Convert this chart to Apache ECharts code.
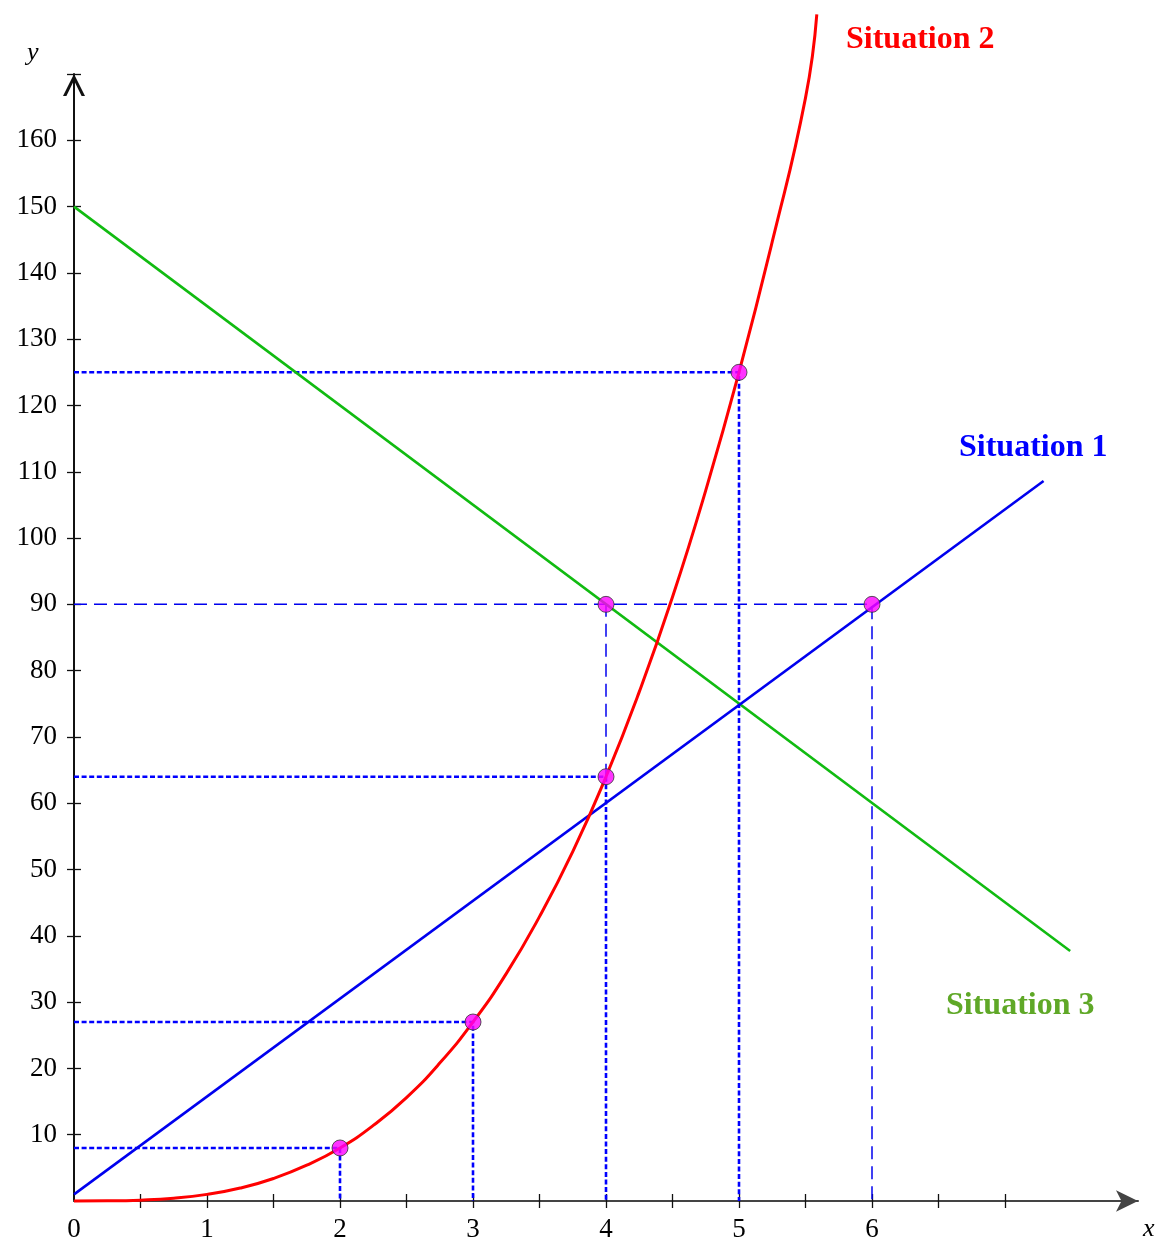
<!DOCTYPE html>
<html>
<head>
<meta charset="utf-8">
<script src="https://cdn.jsdelivr.net/npm/echarts@6/dist/echarts.min.js"></script>
<style>
html,body{margin:0;padding:0;background:#fff;}
#chart{width:1161px;height:1243px;}
</style>
</head>
<body>
<div id="chart"></div>
<script>
// ---- data ----
var xTickValues = [0.5,1,1.5,2,2.5,3,3.5,4,4.5,5,5.5,6,6.5,7];
var xLabelValues = [0,1,2,3,4,5,6];
var yTickValues = [10,20,30,40,50,60,70,80,90,100,110,120,130,140,150,160,170];
var yLabelValues = [10,20,30,40,50,60,70,80,90,100,110,120,130,140,150,160];

var situation1 = [[0, 1], [7.29, 108.6]];
var situation2 = [[0,0],[0.25,0.02],[0.5,0.13],[0.75,0.42],[1,1],[1.25,1.95],[1.5,3.4],[1.75,5.4],
  [2,8],[2.25,11.4],[2.5,15.6],[2.75,20.8],[3,27],[3.25,34.3],[3.5,42.9],[3.75,52.7],[4,64],
  [4.25,76.8],[4.5,91.1],[4.75,107.2],[5,125],[5.25,144.7],[5.5,166.4],[5.585,179]];
var situation3 = [[0, 150], [7.49, 37.7]];

var markedPoints = [[2,8],[3,27],[4,64],[5,125],[4,90],[6,90]];

// dotted guides (thick blue dotted)
var guide2 = [[0,8],[2,8],[2,0]];
var guide3 = [[0,27],[3,27],[3,0]];
var guide4 = [[0,64],[4,64],[4,0]];
var guide5 = [[0,125],[5,125],[5,0]];
// thin dashed guides
var guide90 = [[0,90],[6,90],[6,0]];
var guide4up = [[4,64],[4,90]];

var chart = echarts.init(document.getElementById('chart'), null, {renderer:'canvas'});
var serif = '"Liberation Serif", "Times New Roman", serif';
var chevron = 'path://M0,22 L11,0 L22,22 L18.6,22 L11,6.5 L3.4,22 Z';

function dotted(data){
  return {type:'line', xAxisIndex:0, yAxisIndex:0, data:data, symbol:'none', silent:true, z:3,
    lineStyle:{color:'#0000ff', width:2.6, type:[5,2.6]}};
}
function dashed(data){
  return {type:'line', xAxisIndex:0, yAxisIndex:0, data:data, symbol:'none', silent:true, z:3,
    lineStyle:{color:'#0000ee', width:1.5, type:[13,7]}};
}

var option = {
  animation:false,
  backgroundColor:'#fff',
  grid:{left:74, top:74, right:23, bottom:39, containLabel:false},
  xAxis:[
    {type:'value', min:0, max:8, position:'bottom',
     axisLine:{show:true, onZero:false, symbol:['none','arrow'], symbolSize:[16,22], lineStyle:{color:'#444', width:2}},
     axisTick:{show:true, inside:false, length:7, customValues:xTickValues, lineStyle:{color:'#111', width:1.3}},
     axisLabel:{show:true, customValues:xLabelValues, margin:15, color:'#000', fontFamily:serif, fontSize:27},
     splitLine:{show:false}},
    {type:'value', min:0, max:8, position:'bottom',
     axisLine:{show:false},
     axisTick:{show:true, inside:true, length:7, customValues:xTickValues, lineStyle:{color:'#111', width:1.3}},
     axisLabel:{show:false}, splitLine:{show:false}}
  ],
  yAxis:[
    {type:'value', min:0, max:170, position:'left',
     axisLine:{show:true, onZero:false, symbol:['none',chevron], symbolSize:[22,22], symbolOffset:[0,-11], lineStyle:{color:'#111', width:2}},
     axisTick:{show:true, inside:false, length:7, customValues:yTickValues, lineStyle:{color:'#111', width:1.3}},
     axisLabel:{show:true, customValues:yLabelValues, margin:17, color:'#000', fontFamily:serif, fontSize:27},
     splitLine:{show:false}},
    {type:'value', min:0, max:170, position:'left',
     axisLine:{show:false},
     axisTick:{show:true, inside:true, length:7, customValues:yTickValues, lineStyle:{color:'#111', width:1.3}},
     axisLabel:{show:false}, splitLine:{show:false}}
  ],
  series:[
    dotted(guide2), dotted(guide3), dotted(guide4), dotted(guide5),
    dashed(guide90), dashed(guide4up),
    {name:'Situation 3', type:'line', data:situation3, symbol:'none', z:4,
     lineStyle:{color:'#11bb11', width:2.6}},
    {name:'Situation 1', type:'line', data:situation1, symbol:'none', z:4,
     lineStyle:{color:'#0000ee', width:2.6}},
    {name:'Situation 2', type:'line', data:situation2, symbol:'none', smooth:true, clip:false, z:5,
     lineStyle:{color:'#ff0000', width:3}},
    {type:'scatter', data:markedPoints, symbol:'circle', symbolSize:16, z:6,
     itemStyle:{color:'#ff00ff', borderColor:'#333', borderWidth:1}}
  ],
  graphic:[
    {type:'text', left:846, top:24, z:10, style:{text:'Situation 2', fill:'#ff0000', font:'bold 32px ' + serif}},
    {type:'text', left:959, top:432, z:10, style:{text:'Situation 1', fill:'#0000ff', font:'bold 32px ' + serif}},
    {type:'text', left:946, top:990, z:10, style:{text:'Situation 3', fill:'#5fa827', font:'bold 32px ' + serif}},
    {type:'text', left:27, top:40, z:10, style:{text:'y', fill:'#000', font:'italic 26px ' + serif}},
    {type:'text', left:1143, top:1216, z:10, style:{text:'x', fill:'#000', font:'italic 26px ' + serif}}
  ]
};
chart.setOption(option);
</script>
</body>
</html>
